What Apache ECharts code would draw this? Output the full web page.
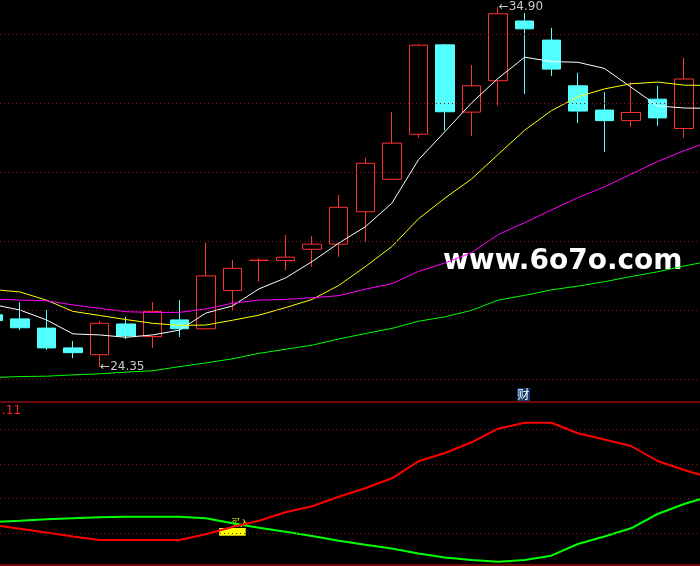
<!DOCTYPE html>
<html>
<head>
<meta charset="utf-8">
<script src="https://cdn.jsdelivr.net/npm/echarts@6/dist/echarts.min.js"></script>
<style>
html,body{margin:0;padding:0;background:#000;overflow:hidden;width:700px;height:566px;}
#chart{position:absolute;left:-20px;top:0;width:744px;height:566px;}
</style>
</head>
<body>
<div id="chart"></div>
<script>
// ---- data ----
var categories = ['1','2','3','4','5','6','7','8','9','10','11','12','13','14','15','16','17','18','19','20','21','22','23','24','25','26','27','28'];
var opens  = [25.88,25.76,25.49,24.91,24.71,25.61,25.24,25.73,25.47,26.59,27.47,27.47,27.80,27.95,28.90,29.85,31.17,33.79,31.82,32.74,34.49,33.93,32.59,31.88,31.57,32.20,31.34];
var closes = [25.71,25.50,24.91,24.77,25.63,25.26,25.98,25.47,27.02,27.24,27.48,27.57,27.95,29.03,30.32,30.91,33.78,31.83,32.59,34.70,34.26,33.08,31.85,31.57,31.81,31.65,32.79];
var lows   = [25.65,25.43,24.85,24.61,24.35,25.17,24.91,25.23,25.45,26.02,26.85,27.18,27.29,27.58,28.02,29.84,31.07,31.28,31.12,32.01,32.35,32.88,31.50,30.65,31.38,31.41,31.07];
var highs  = [25.99,26.25,26.02,25.11,25.70,25.82,26.25,26.31,27.99,27.49,27.54,28.22,28.19,29.39,30.48,31.82,33.82,33.82,33.20,34.90,34.72,34.29,32.97,32.41,32.70,32.59,33.41];
var ma5  = [26.18,26.02,25.73,25.32,25.29,25.22,25.29,25.43,25.93,26.14,26.64,26.96,27.44,27.98,28.46,29.15,30.42,31.25,32.09,32.81,33.43,33.30,33.28,33.10,32.55,32.00,31.94,31.93];
var ma10 = [26.62,26.55,26.31,25.98,25.86,25.74,25.63,25.57,25.58,25.72,25.87,26.09,26.33,26.74,27.29,27.88,28.69,29.30,29.86,30.58,31.29,31.86,32.27,32.50,32.65,32.70,32.61,32.60];
var ma20 = [26.34,26.31,26.29,26.17,26.07,25.97,25.95,25.95,26.05,26.22,26.31,26.33,26.38,26.44,26.63,26.79,27.15,27.40,27.70,28.23,28.58,28.95,29.31,29.63,30.00,30.37,30.69,30.97];
var ma60 = [24.04,24.07,24.08,24.12,24.15,24.20,24.24,24.36,24.47,24.59,24.75,24.87,24.99,25.17,25.33,25.48,25.69,25.82,26.01,26.31,26.45,26.61,26.72,26.85,27.00,27.14,27.31,27.46];
var priceGrid = [24.00,26.02,28.04,30.06,32.08,34.10];
var highLabel = {index:19, value:34.90};
var lowLabel  = {index:4,  value:24.35};
// lower indicator panel
var indRed   = [40,36.3,32.4,28.6,25.1,25,25,25,30.7,38,44.2,52.8,58.7,68.3,76.8,86.7,103.7,112,122.7,136.3,142.2,142.3,131.7,125.5,119,104,95,87];
var indGreen = [43,44.3,45.7,46.7,47.7,48.3,48.3,48.3,46.8,41.7,37.3,33.3,29,24.3,20.2,16.5,11.5,7.5,5,3.3,5,9.3,21,28.5,36.7,51,61,69];
var indGrid  = [31.7,66.7,100.7,135.7];
var stickIndex = 9, stickLow = 29.3, stickHigh = 37;

// ---- build ----
var kData = categories.map(function(c,i){
  return i < opens.length ? [opens[i],closes[i],lows[i],highs[i]] : '-';
});
var stickBase = categories.map(function(c,i){ return i===stickIndex ? stickLow : '-'; });
var stickBody = categories.map(function(c,i){ return i===stickIndex ? (stickHigh-stickLow) : '-'; });

var dotted = {color:'#8c1414', type:[1,3], width:1};
function gridMark(vals){
  return {silent:true, symbol:['none','none'], animation:false, label:{show:false},
    lineStyle:dotted, data: vals.map(function(v){return {yAxis:v};})};
}

var OFF = 20; // container is shifted left by this many px
var chart = echarts.init(document.getElementById('chart'), null, {renderer:'canvas'});
chart.setOption({
  backgroundColor:'#000',
  animation:false,
  grid:[
    {left:0, right:0, top:0, height:400, show:false},
    {left:0, right:0, top:402, height:163, show:true, borderColor:'#e01010', borderWidth:1, backgroundColor:'transparent'}
  ],
  xAxis:[
    {type:'category', data:categories, gridIndex:0, boundaryGap:true, show:false},
    {type:'category', data:categories, gridIndex:1, boundaryGap:true, show:false}
  ],
  yAxis:[
    {type:'value', gridIndex:0, min:23.383, max:35.105, show:false, splitLine:{show:false}},
    {type:'value', gridIndex:1, min:0, max:163, show:false, splitLine:{show:false}}
  ],
  graphic:[
    {type:'text', left:443+OFF, top:248, z:1, style:{text:'www.6o7o.com', fill:'#ffffff', font:'bold 28px "DejaVu Sans"'}},
    {type:'group', left:517+OFF, top:388, children:[
      {type:'rect', shape:{x:0,y:0,width:13,height:13}, style:{fill:'#12386e'}},
      {type:'text', x:0.5, y:0.5, style:{text:'财', fill:'#ffffff', font:'12px "Noto Sans CJK SC"'}}
    ]},
    {type:'text', left:2+OFF, top:405, style:{text:'.11', fill:'#ff2020', font:'12px "DejaVu Sans"'}},
    {type:'text', left:231+OFF, top:518, style:{text:'买入', fill:'#ffff00', font:'9px "Noto Sans CJK SC"'}}
  ],
  series:[
    {type:'candlestick', xAxisIndex:0, yAxisIndex:0, data:kData, barWidth:19,
      itemStyle:{color:'rgba(0,0,0,0)', color0:'#54ffff', borderColor:'#ff3232', borderColor0:'#54ffff', borderWidth:1},
      markLine: gridMark(priceGrid),
      markPoint:{animation:false, symbol:'circle', symbolSize:1, itemStyle:{color:'rgba(0,0,0,0)'},
        label:{show:true, position:'right', distance:0, color:'#c8c8c8', fontSize:12, fontFamily:'DejaVu Sans'},
        data:[
          {coord:[highLabel.index, highLabel.value], label:{formatter:'\u2190' + highLabel.value.toFixed(2)}},
          {coord:[lowLabel.index, lowLabel.value], label:{formatter:'\u2190' + lowLabel.value.toFixed(2)}}
        ]}
    },
    {type:'line', data:ma5, symbol:'none', lineStyle:{color:'#ffffff', width:1}, z:3},
    {type:'line', data:ma10, symbol:'none', lineStyle:{color:'#ffff00', width:1}, z:3},
    {type:'line', data:ma20, symbol:'none', lineStyle:{color:'#ff00ff', width:1}, z:3},
    {type:'line', data:ma60, symbol:'none', lineStyle:{color:'#00ff00', width:1}, z:3},
    {type:'bar', xAxisIndex:1, yAxisIndex:1, data:stickBase, stack:'stick', barWidth:'100%', itemStyle:{color:'rgba(0,0,0,0)'}, silent:true},
    {type:'bar', xAxisIndex:1, yAxisIndex:1, data:stickBody, stack:'stick', barWidth:'100%', itemStyle:{color:'#ffff00'}},
    {type:'line', xAxisIndex:1, yAxisIndex:1, data:indGreen, symbol:'none', lineStyle:{color:'#00ff00', width:2}, z:3, markLine: gridMark(indGrid)},
    {type:'line', xAxisIndex:1, yAxisIndex:1, data:indRed, symbol:'none', lineStyle:{color:'#ff0000', width:2}, z:3}
  ]
});
</script>
</body>
</html>
